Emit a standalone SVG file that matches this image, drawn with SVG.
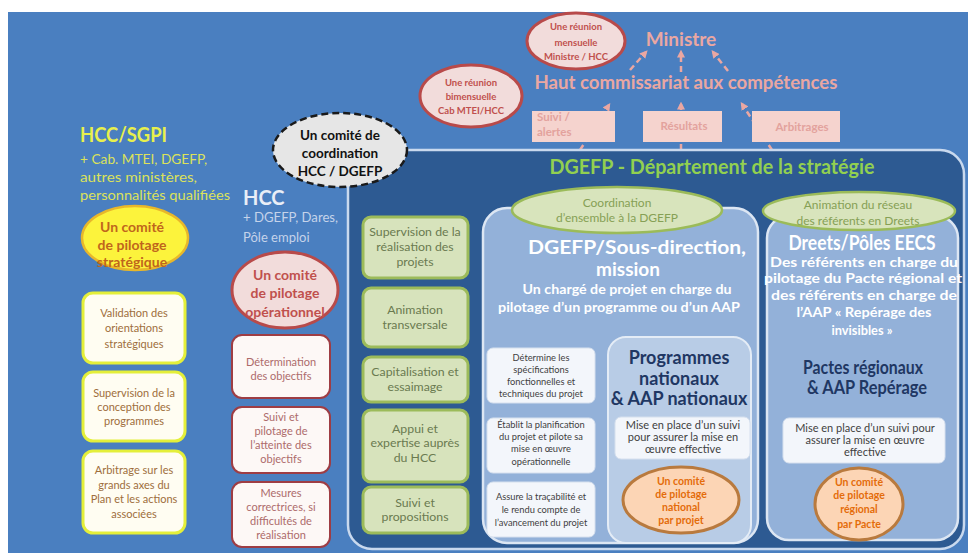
<svg xmlns="http://www.w3.org/2000/svg" width="968" height="555" viewBox="0 0 968 555">
<defs>
<marker id="ah" viewBox="0 0 10 10" refX="7" refY="5" markerWidth="3.2" markerHeight="3.2" orient="auto"><path d="M0,0 L10,5 L0,10 z" fill="#eaa7a2"/></marker>
</defs>
<style>
text{font-family:Lato,"Liberation Sans",sans-serif}
.c{text-anchor:middle}
.b{font-weight:bold}
.pinkE{fill:#f2dcdb;stroke:#b84a4a;stroke-width:3}
.pinkT{fill:#c0504d;font-weight:bold}
.topBox{fill:#f5d3ce}
.topT{fill:#e3a29d;font-weight:bold;font-size:11.5px}
.yBox{fill:#fffdf2;stroke:#e4ef3a;stroke-width:3}
.yT{fill:#9e6e3c;font-size:11px;text-anchor:middle}
.mBox{fill:#fdf8f6;stroke:#9e3d44;stroke-width:2}
.mT{fill:#ad6b6b;font-size:11px;text-anchor:middle}
.gBox{fill:#d7e3bc;stroke:#9cbb5a;stroke-width:3}
.gT{fill:#6a7a50;font-size:12.3px;text-anchor:middle}
.gE{fill:#d8e4bc;stroke:#9bbb59;stroke-width:2.5}
.gET{fill:#86a055;font-size:12px;text-anchor:middle}
.wBox{fill:#f3f6fb;stroke:#d6e0ee;stroke-width:1}
.wT{fill:#3f3f3f;font-size:9.3px;text-anchor:middle}
.wT2{fill:#3f3f3f;font-size:11px;text-anchor:middle}
.oE{fill:#fcd5b5;stroke:#b97a3e;stroke-width:3}
.oT{fill:#e46c0a;font-size:10.5px;font-weight:bold;text-anchor:middle}
.panel{fill:#93b1d9;stroke:#dce6f3;stroke-width:2.5}
.navy{fill:#1f3763;font-weight:bold;font-size:18px;text-anchor:middle}
.wh{fill:#ffffff;font-weight:bold;text-anchor:middle}
.arr{fill:none;stroke:#eaa7a2;stroke-width:2.5;stroke-dasharray:6 4;marker-end:url(#ah)}
</style>
<rect x="0" y="0" width="968" height="555" fill="#ffffff"/>
<rect x="8" y="12" width="960" height="541" fill="#4a7fc0"/>

<g id="connectors">
<path class="arr" d="M580,150 L609,105"/>
<path class="arr" d="M681,150 L681,104"/>
<path class="arr" d="M772,150 L742,104"/>
<path class="arr" d="M630,70 L646,52"/>
<path class="arr" d="M681,72 L681,52"/>
<path class="arr" d="M728,71 L713,52"/>
</g>

<g id="ministre"><text x="681" y="46" class="c b" font-size="19" fill="#eaa7a2">Ministre</text></g>
<g id="hcc-top"><text x="686" y="89" class="c b" font-size="19" fill="#eaa7a2" textLength="303" lengthAdjust="spacingAndGlyphs">Haut commissariat aux compétences</text></g>

<g id="reunion-mensuelle">
<ellipse class="pinkE" cx="576" cy="41" rx="49" ry="28"/>
<text class="pinkT c" font-size="9.5"><tspan x="576" y="30">Une réunion</tspan><tspan x="576" y="46">mensuelle</tspan><tspan x="576" y="60">Ministre / HCC</tspan></text>
</g>
<g id="reunion-bimensuelle">
<ellipse class="pinkE" cx="471" cy="96" rx="51" ry="31"/>
<text class="pinkT c" font-size="9.5"><tspan x="471" y="86">Une réunion</tspan><tspan x="471" y="100">bimensuelle</tspan><tspan x="471" y="114">Cab MTEI/HCC</tspan></text>
</g>

<g id="suivi-alertes">
<rect class="topBox" x="532" y="111" width="83" height="31"/>
<text class="topT"><tspan x="537" y="121">Suivi /</tspan><tspan x="537" y="136">alertes</tspan></text>
</g>
<g id="resultats">
<rect class="topBox" x="643" y="111" width="79" height="31"/>
<text class="topT c" x="684" y="130">Résultats</text>
</g>
<g id="arbitrages">
<rect class="topBox" x="752" y="111" width="88" height="31"/>
<text class="topT c" x="802" y="131">Arbitrages</text>
</g>

<g id="hcc-sgpi">
<text x="80" y="142" class="b" font-size="21" fill="#e8f04c" textLength="87" lengthAdjust="spacingAndGlyphs">HCC/SGPI</text>
<text font-size="13" fill="#dce25a"><tspan x="80" y="164" textLength="127" lengthAdjust="spacingAndGlyphs">+ Cab. MTEI, DGEFP,</tspan><tspan x="80" y="182" textLength="117" lengthAdjust="spacingAndGlyphs">autres ministères,</tspan><tspan x="80" y="200" textLength="150" lengthAdjust="spacingAndGlyphs">personnalités  qualifiées</tspan></text>
</g>
<g id="copil-strategique">
<ellipse cx="135" cy="238" rx="53" ry="32" fill="#fcf33c" stroke="#e8b72a" stroke-width="2.5"/>
<text class="c b" font-size="14" fill="#c0651c"><tspan x="132" y="232">Un comité</tspan><tspan x="132" y="250">de pilotage</tspan><tspan x="132" y="267">stratégique</tspan></text>
</g>
<g id="validation">
<rect class="yBox" x="83" y="293" width="102" height="70" rx="10"/>
<text class="yT"><tspan x="134" y="317">Validation des</tspan><tspan x="134" y="332">orientations</tspan><tspan x="134" y="348">stratégiques</tspan></text>
</g>
<g id="supervision-conception">
<rect class="yBox" x="83" y="372" width="102" height="69" rx="10"/>
<text class="yT"><tspan x="134" y="397">Supervision de la</tspan><tspan x="134" y="411">conception des</tspan><tspan x="134" y="425">programmes</tspan></text>
</g>
<g id="arbitrage-axes">
<rect class="yBox" x="83" y="451" width="102" height="82" rx="10"/>
<text class="yT"><tspan x="134" y="474">Arbitrage sur les</tspan><tspan x="134" y="489">grands axes du</tspan><tspan x="134" y="503">Plan et les actions</tspan><tspan x="134" y="518">associées</tspan></text>
</g>

<g id="hcc">
<text x="243" y="205" class="b" font-size="20" fill="#e9eef7">HCC</text>
<text font-size="13" fill="#c5d3ea"><tspan x="243" y="222" textLength="95" lengthAdjust="spacingAndGlyphs">+ DGEFP, Dares,</tspan><tspan x="243" y="242">Pôle emploi</tspan></text>
</g>
<g id="copil-operationnel">
<ellipse class="pinkE" cx="285" cy="290" rx="53" ry="38"/>
<text class="pinkT c" font-size="14"><tspan x="285" y="280">Un comité</tspan><tspan x="285" y="298">de pilotage</tspan><tspan x="285" y="317">opérationnel</tspan></text>
</g>
<g id="determination">
<rect class="mBox" x="232" y="335" width="98" height="63" rx="10"/>
<text class="mT"><tspan x="281" y="366">Détermination</tspan><tspan x="281" y="380">des objectifs</tspan></text>
</g>
<g id="suivi-pilotage">
<rect class="mBox" x="232" y="407" width="98" height="66" rx="10"/>
<text class="mT"><tspan x="281" y="421">Suivi et</tspan><tspan x="281" y="435">pilotage de</tspan><tspan x="281" y="449">l’atteinte des</tspan><tspan x="281" y="463">objectifs</tspan></text>
</g>
<g id="mesures">
<rect class="mBox" x="232" y="482" width="98" height="65" rx="10"/>
<text class="mT"><tspan x="281" y="497">Mesures</tspan><tspan x="281" y="511">correctrices, si</tspan><tspan x="281" y="525">difficultés de</tspan><tspan x="281" y="539">réalisation</tspan></text>
</g>

<g id="dgefp-strategie">
<rect x="348" y="150" width="616" height="399" rx="24" fill="#2d5a92" stroke="#c9d9ee" stroke-width="2.5"/>
<text x="712" y="174" class="c b" font-size="20" fill="#92d050" textLength="325" lengthAdjust="spacingAndGlyphs">DGEFP - Département de la stratégie</text>
</g>

<g id="comite-coordination">
<ellipse cx="340" cy="150" rx="67" ry="37" fill="#e6e6e6" stroke="#1a1a1a" stroke-width="2.5" stroke-dasharray="7 4"/>
<text class="c b" font-size="13.5" fill="#111111"><tspan x="340" y="140">Un comité de</tspan><tspan x="340" y="158">coordination</tspan><tspan x="340" y="176">HCC / DGEFP</tspan></text>
</g>

<g id="supervision-realisation">
<rect class="gBox" x="363" y="217" width="105" height="61" rx="8"/>
<text class="gT"><tspan x="415" y="236">Supervision de la</tspan><tspan x="415" y="251">réalisation des</tspan><tspan x="415" y="266">projets</tspan></text>
</g>
<g id="animation-transversale">
<rect class="gBox" x="363" y="288" width="105" height="59" rx="8"/>
<text class="gT"><tspan x="415" y="314">Animation</tspan><tspan x="415" y="329">transversale</tspan></text>
</g>
<g id="capitalisation">
<rect class="gBox" x="363" y="357" width="105" height="45" rx="8"/>
<text class="gT"><tspan x="415" y="376">Capitalisation et</tspan><tspan x="415" y="391">essaimage</tspan></text>
</g>
<g id="appui">
<rect class="gBox" x="363" y="410" width="105" height="72" rx="8"/>
<text class="gT"><tspan x="415" y="433">Appui et</tspan><tspan x="415" y="447">expertise auprès</tspan><tspan x="415" y="462">du HCC</tspan></text>
</g>
<g id="suivi-propositions">
<rect class="gBox" x="363" y="487" width="105" height="46" rx="8"/>
<text class="gT"><tspan x="415" y="507">Suivi et</tspan><tspan x="415" y="521">propositions</tspan></text>
</g>

<g id="sous-direction">
<rect class="panel" x="483" y="208" width="275" height="335" rx="24"/>
<text class="wh" font-size="19" x="637" y="254" textLength="218" lengthAdjust="spacingAndGlyphs">DGEFP/Sous-direction,</text>
<text class="wh" font-size="19" x="628" y="276">mission</text>
<text class="wh" font-size="13"><tspan x="627" y="294" textLength="209" lengthAdjust="spacingAndGlyphs">Un chargé de projet en charge du</tspan><tspan x="619" y="312" textLength="242" lengthAdjust="spacingAndGlyphs">pilotage d’un programme  ou d’un AAP</tspan></text>
</g>
<g id="coordination-ensemble">
<ellipse class="gE" cx="617" cy="210" rx="105" ry="23"/>
<text class="gET"><tspan x="617" y="207">Coordination</tspan><tspan x="617" y="222">d’ensemble à la DGEFP</tspan></text>
</g>
<g id="determine">
<rect class="wBox" x="487" y="348" width="108" height="55" rx="6"/>
<text class="wT"><tspan x="541" y="361">Détermine  les</tspan><tspan x="541" y="373">spécifications</tspan><tspan x="541" y="385">fonctionnelles et</tspan><tspan x="541" y="397">techniques du projet</tspan></text>
</g>
<g id="etablit">
<rect class="wBox" x="487" y="418" width="108" height="55" rx="6"/>
<text class="wT"><tspan x="541" y="428">Établit la planification</tspan><tspan x="541" y="440">du projet et pilote sa</tspan><tspan x="541" y="452">mise en œuvre</tspan><tspan x="541" y="465">opérationnelle</tspan></text>
</g>
<g id="assure">
<rect class="wBox" x="487" y="482" width="108" height="55" rx="6"/>
<text class="wT"><tspan x="541" y="500">Assure la traçabilité et</tspan><tspan x="541" y="513">le rendu compte de</tspan><tspan x="541" y="526">l’avancement du projet</tspan></text>
</g>
<g id="programmes-nationaux">
<rect x="608" y="337" width="143" height="206" rx="18" fill="#b8cce6" stroke="#e4ecf6" stroke-width="2"/>
<text class="navy"><tspan x="679" y="364">Programmes</tspan><tspan x="679" y="385">nationaux</tspan><tspan x="679" y="405">&amp; AAP nationaux</tspan></text>
<rect class="wBox" x="615" y="417" width="135" height="42" rx="6"/>
<text class="wT2"><tspan x="683" y="429">Mise en place d’un suivi</tspan><tspan x="683" y="441">pour assurer la mise en</tspan><tspan x="683" y="453">œuvre effective</tspan></text>
</g>
<g id="copil-national">
<ellipse class="oE" cx="681" cy="500" rx="58" ry="33"/>
<text class="oT"><tspan x="681" y="485">Un comité</tspan><tspan x="681" y="498">de pilotage</tspan><tspan x="681" y="511">national</tspan><tspan x="681" y="524">par projet</tspan></text>
</g>

<g id="dreets">
<rect class="panel" x="767" y="216" width="191" height="324" rx="22"/>
<text class="wh" font-size="20" x="862" y="250" textLength="147" lengthAdjust="spacingAndGlyphs">Dreets/Pôles EECS</text>
<text class="wh" font-size="14"><tspan x="864" y="267" textLength="188" lengthAdjust="spacingAndGlyphs">Des référents en charge du</tspan><tspan x="863" y="283" textLength="198" lengthAdjust="spacingAndGlyphs">pilotage du Pacte régional et</tspan><tspan x="864" y="300" textLength="186" lengthAdjust="spacingAndGlyphs">des référents en charge de</tspan><tspan x="864" y="317" textLength="135" lengthAdjust="spacingAndGlyphs">l’AAP « Repérage des</tspan><tspan x="862" y="335" textLength="61" lengthAdjust="spacingAndGlyphs">invisibles »</tspan></text>
</g>
<g id="animation-reseau">
<ellipse class="gE" cx="859" cy="211" rx="96" ry="19"/>
<text class="gET" font-size="12.5"><tspan x="858" y="209">Animation du réseau</tspan><tspan x="858" y="225">des référents en Dreets</tspan></text>
</g>
<g id="pactes-regionaux">
<text class="navy" font-size="17"><tspan x="863" y="374" textLength="120" lengthAdjust="spacingAndGlyphs">Pactes régionaux</tspan><tspan x="867" y="394" textLength="120" lengthAdjust="spacingAndGlyphs">&amp; AAP Repérage</tspan></text>
<rect class="wBox" x="783" y="418" width="162" height="45" rx="6"/>
<text class="wT2"><tspan x="865" y="432">Mise en place d’un suivi pour</tspan><tspan x="865" y="444">assurer la mise en œuvre</tspan><tspan x="865" y="456">effective</tspan></text>
</g>
<g id="copil-regional">
<ellipse class="oE" cx="859" cy="504" rx="44" ry="36"/>
<text class="oT"><tspan x="859" y="486">Un comité</tspan><tspan x="859" y="499">de pilotage</tspan><tspan x="859" y="513">régional</tspan><tspan x="859" y="528">par Pacte</tspan></text>
</g>
</svg>
